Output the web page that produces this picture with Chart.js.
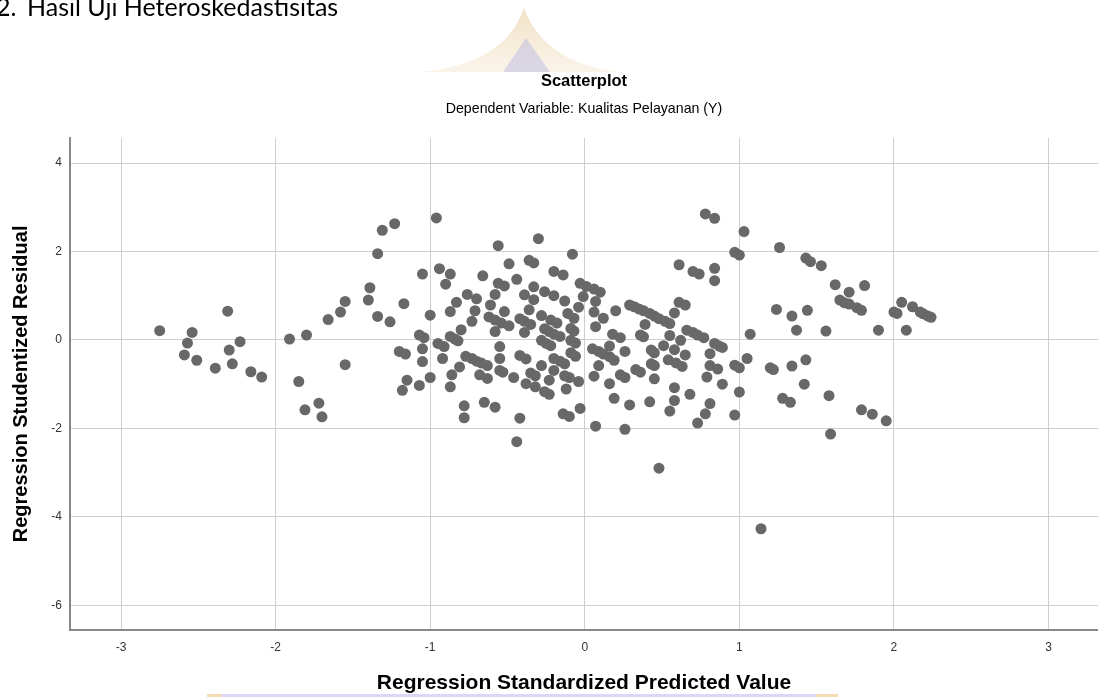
<!DOCTYPE html>
<html>
<head>
<meta charset="utf-8">
<script src="https://cdn.jsdelivr.net/npm/chart.js@4.4.1/dist/chart.umd.min.js"></script>
<style>
  html, body { margin: 0; padding: 0; background: #fff; }
  #wrap { position: relative; width: 1098px; height: 697px; overflow: hidden; }
  canvas { position: absolute; left: 0; top: 0; }
  .doc { position: absolute; top: -6px; font: 25px Lato, sans-serif; line-height: 25px; color: #000; white-space: pre; }
</style>
</head>
<body>
<div id="wrap">
  <canvas id="chart" width="1098" height="697"></canvas>
  <div class="doc" style="left:-4px">2.</div>
  <div class="doc" style="left:27px">Hasil Uji Heteroskedastisitas</div>
</div>
<script>
// nilai (perkiraan)
const predicted = [
  -2.75, -2.54, -2.57, -2.59, -2.51, -2.31, -2.23, -2.30, -2.28, -2.39, -2.16, -2.09,
  -1.91, -1.80, -1.85, -1.81, -1.72, -1.70, -1.55, -1.66, -1.58, -1.55, -1.39, -1.40,
  -1.34, -1.31, -1.23, -1.34, -1.26, -1.17, -1.20, -1.16, -1.15, -1.18,
  -0.96, -0.56, -0.30, -0.08, -1.05, -0.94, -0.87, -0.90, -0.66, -0.49, -0.36, -0.33,
  -0.44, -0.20, -0.14, -0.03, 0.01, -0.56, -0.52, -0.58, -0.76, -0.70, -0.83, -0.87,
  -0.71, -1.00, -0.73, -0.80, -0.61, -0.52, -0.62, -0.58, -0.54, -0.49, -0.58, -0.39,
  -0.33, -0.33, -0.36, -0.26, -0.20, -0.13, -0.04, -0.01, -0.42, -0.39, -0.35, -0.39,
  -0.28, -0.22, -0.18, -0.11, -0.07, -0.26, -0.23, -0.20, -0.16, -0.09, -0.07, -1.07,
  -1.04, -1.05, -1.05, -1.07, -1.00, -0.95, -0.91, -0.92, -0.87, -0.84, -0.82, -0.86,
  -0.81, -0.87, -0.78, -0.78, -0.65, -0.58, -0.77, -0.73, -0.70, -0.67, -0.63, -0.68,
  -0.63, -0.55, -0.55, -0.55, -0.53, -0.46, -0.42, -0.38, -0.42, -0.44, -0.38, -0.32,
  -0.35, -0.32, -0.28, -0.26, -0.23, -0.23, -0.28, -0.25, -0.22, -0.20, -0.16, -0.13,
  -0.20, -0.13, -0.10, -0.12, -0.09, -0.06, -0.04, -0.14, -0.10, -0.03, -0.09, -0.06,
  0.78, 0.84, 1.03, 0.97, 1.00, 0.61, 0.70, 0.74, 0.84, 0.84, 0.06, 0.10,
  0.07, 0.61, 0.65, 0.58, 0.20, 0.29, 0.32, 0.35, 0.38, 0.42, 0.45, 0.48,
  0.52, 0.55, 0.06, 0.12, 0.07, 0.39, 0.36, 0.38, 0.18, 0.23, 0.55, 0.62,
  0.66, 0.70, 0.73, 0.77, 0.84, 0.87, 0.89, 1.07, 0.16, 0.05, 0.09, 0.12,
  0.16, 0.19, 0.26, 0.09, 0.06, 0.43, 0.45, 0.51, 0.58, 0.65, 0.43, 0.45,
  0.54, 0.59, 0.63, 0.33, 0.36, 0.23, 0.26, 0.16, 0.45, 0.81, 0.81, 0.86,
  0.79, 0.89, 0.97, 1.00, 1.05, 1.20, 1.22, 0.58, 0.68, 0.19, 0.29, 0.42,
  0.58, 0.55, 0.81, 0.78, 0.73, 1.00, 0.97, 0.07, 0.26, 0.48,
  1.26, 1.43, 1.46, 1.53, 1.62, 1.71, 1.81, 1.65, 1.68, 1.71, 1.76, 1.79,
  1.24, 1.34, 1.44, 1.37, 1.56, 1.90, 2.00, 2.02, 2.05, 2.12, 2.17, 2.19,
  2.22, 2.24, 2.08, 1.43, 1.34, 1.42, 1.28, 1.33, 1.58, 1.59, 1.79, 1.86,
  1.95, 1.14
];

const residual = [
  0.21, 0.17, -0.07, -0.34, -0.46, 0.65, -0.04, -0.23, -0.54, -0.64, -0.72, -0.84,
  0.02, 0.11, -0.94, -1.58, -1.43, -1.74, -0.56, 0.46, 0.63, 0.87, 1.18, 0.90,
  1.95, 2.48, 2.63, 0.53, 0.41, 0.82, -0.26, -0.32, -0.91, -1.14,
  2.76, 2.13, 2.29, 1.94, 1.49, 1.61, 1.49, 1.26, 1.45, 1.72, 1.80, 1.74,
  1.37, 1.55, 1.47, 1.28, 1.21, 1.28, 1.22, 1.03, 1.03, 0.93, 0.85, 0.64,
  0.66, 0.56, 0.42, 0.23, 0.79, 0.64, 0.52, 0.45, 0.38, 0.32, 0.19, 1.02,
  1.20, 0.91, 0.68, 1.09, 1.00, 0.88, 0.74, 0.98, 0.48, 0.42, 0.35, 0.17,
  0.55, 0.45, 0.38, 0.60, 0.49, 0.25, 0.19, 0.13, 0.08, 0.26, 0.20, 0.11,
  0.05, -0.20, -0.49, -1.03, -0.85, -0.08, -0.15, -0.42, 0.08, 0.02, -0.02, -0.79,
  -0.61, -1.06, -1.49, -1.76, -1.41, -1.52, -0.37, -0.42, -0.48, -0.52, -0.58, -0.79,
  -0.87, -0.15, -0.42, -0.69, -0.73, -0.85, -0.35, -0.43, -1.77, -2.30, -0.99, -1.06,
  -0.75, -0.81, -0.58, -1.17, -1.23, -0.91, -0.01, -0.08, -0.13, -0.42, -0.48, -0.54,
  -0.69, -0.81, -0.85, -1.11, -0.29, -0.37, -0.94, -1.67, -1.73, -1.55, -0.01, -0.07,
  2.85, 2.75, 2.45, 1.98, 1.92, 1.70, 1.55, 1.49, 1.62, 1.34, 1.15, 1.08,
  0.87, 0.85, 0.79, 0.61, 0.66, 0.79, 0.75, 0.70, 0.66, 0.60, 0.54, 0.48,
  0.42, 0.37, 0.63, 0.49, 0.30, 0.35, 0.11, 0.07, 0.13, 0.05, 0.10, -0.01,
  0.22, 0.17, 0.11, 0.05, -0.08, -0.14, -0.17, 0.13, -0.14, -0.20, -0.26, -0.32,
  -0.38, -0.46, -0.26, -0.58, -0.82, -0.23, -0.29, -0.13, -0.22, -0.34, -0.54, -0.58,
  -0.45, -0.52, -0.60, -0.67, -0.73, -0.79, -0.85, -0.99, -0.88, -0.31, -0.58, -0.66,
  -0.84, -1.00, -0.57, -0.63, -0.42, -0.63, -0.67, -1.08, -1.23, -1.32, -1.47, -1.40,
  -1.37, -1.61, -1.44, -1.67, -1.88, -1.18, -1.70, -1.95, -2.02, -2.90,
  2.09, 1.85, 1.77, 1.68, 1.25, 1.08, 1.23, 0.90, 0.84, 0.81, 0.73, 0.67,
  0.69, 0.54, 0.67, 0.22, 0.20, 0.22, 0.63, 0.60, 0.85, 0.75, 0.63, 0.59,
  0.54, 0.51, 0.22, -0.45, -0.59, -1.00, -1.32, -1.41, -1.26, -2.13, -1.58, -1.68,
  -1.83, -4.27
];

const xTicks = [-3, -2, -1, 0, 1, 2, 3];
const yTicks = [-6, -4, -2, 0, 2, 4];

const points = predicted.map((x, i) => ({ x: x, y: residual[i] }));

Chart.defaults.font.family = "'Liberation Sans', Arial, sans-serif";

// logo samar: atap di atas judul dan pita di bawah judul sumbu
const watermark = {
  id: 'watermark',
  beforeDraw(chart) {
    const ctx = chart.ctx;
    ctx.save();
    const g = ctx.createLinearGradient(0, 8, 0, 72);
    g.addColorStop(0, 'rgba(232, 200, 150, 0.55)');
    g.addColorStop(1, 'rgba(240, 222, 190, 0.35)');
    ctx.fillStyle = g;
    ctx.beginPath();
    ctx.moveTo(421, 72);
    ctx.quadraticCurveTo(505, 64, 524, 8);
    ctx.quadraticCurveTo(545, 64, 620, 72);
    ctx.closePath();
    ctx.fill();
    ctx.fillStyle = 'rgba(180, 180, 225, 0.45)';
    ctx.beginPath();
    ctx.moveTo(503, 72);
    ctx.lineTo(526, 38);
    ctx.lineTo(550, 72);
    ctx.closePath();
    ctx.fill();
    ctx.fillStyle = 'rgba(200, 200, 245, 0.7)';
    ctx.fillRect(222, 694, 594, 3);
    ctx.fillStyle = 'rgba(242, 205, 150, 0.7)';
    ctx.fillRect(207, 694, 15, 3);
    ctx.fillRect(816, 694, 22, 3);
    ctx.restore();
  }
};

new Chart(document.getElementById('chart'), {
  type: 'scatter',
  data: {
    datasets: [{
      data: points,
      pointRadius: 5.5,
      pointHoverRadius: 5.5,
      pointBackgroundColor: '#686868',
      pointBorderWidth: 0
    }]
  },
  options: {
    responsive: false,
    animation: false,
    layout: { padding: 0, autoPadding: false },
    plugins: {
      legend: { display: false },
      tooltip: { enabled: false },
      title: {
        display: true,
        text: 'Scatterplot',
        fullSize: false,
        color: '#000',
        font: { size: 16.5, weight: 'bold' },
        padding: { top: 72, bottom: 0 }
      },
      subtitle: {
        display: true,
        text: 'Dependent Variable: Kualitas Pelayanan (Y)',
        fullSize: false,
        color: '#000',
        font: { size: 14.2 },
        padding: { top: 9, bottom: 20 }
      }
    },
    scales: {
      x: {
        type: 'linear',
        min: -3.33,
        max: 3.32,
        afterBuildTicks: (scale) => { scale.ticks = xTicks.map(v => ({ value: v })); },
        afterFit: (scale) => { scale.height = 67; scale.paddingLeft = 0; scale.paddingRight = 0; },
        grid: { color: '#cfcfcf', lineWidth: 1, drawTicks: false },
        border: { display: true, color: '#888', width: 2 },
        ticks: { color: '#333', font: { size: 12 }, padding: 10, maxRotation: 0 },
        title: {
          display: true,
          text: 'Regression Standardized Predicted Value',
          color: '#000',
          font: { size: 21, weight: 'bold' },
          padding: { top: 0, bottom: 1 }
        }
      },
      y: {
        type: 'linear',
        min: -6.56,
        max: 4.57,
        afterBuildTicks: (scale) => { scale.ticks = yTicks.map(v => ({ value: v })); },
        afterFit: (scale) => { scale.width = 70; scale.paddingTop = 0; scale.paddingBottom = 0; },
        grid: { color: '#cfcfcf', lineWidth: 1, drawTicks: false },
        border: { display: true, color: '#888', width: 2 },
        ticks: { color: '#333', font: { size: 12 }, padding: 8 },
        title: {
          display: true,
          text: 'Regression Studentized Residual',
          color: '#000',
          font: { size: 20, weight: 'bold' },
          padding: { top: 9, bottom: 0 }
        }
      }
    }
  },
  plugins: [watermark]
});
</script>
</body>
</html>
